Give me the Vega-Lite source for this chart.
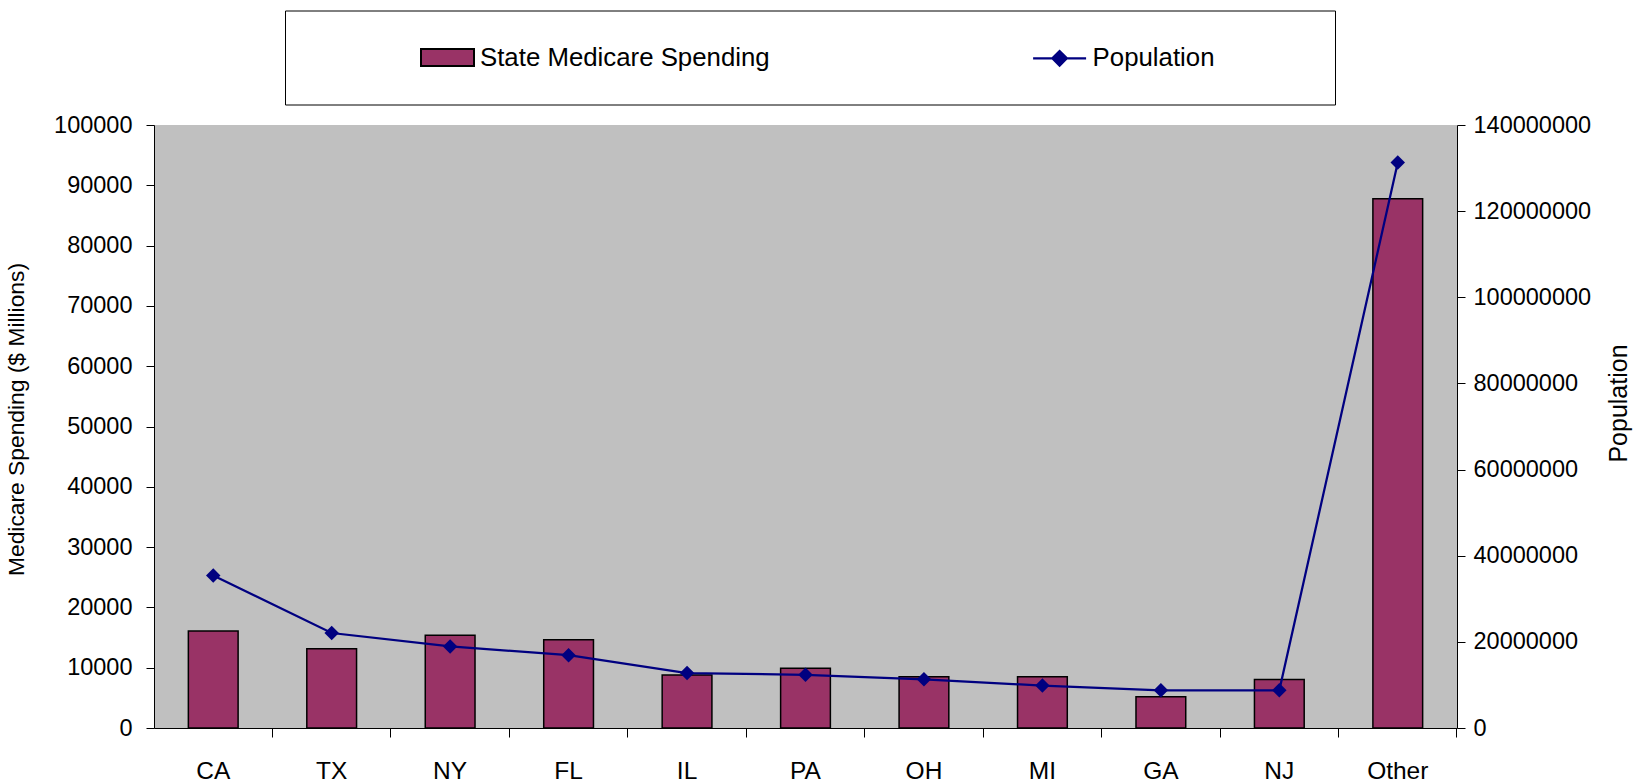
{
  "$schema": "https://vega.github.io/schema/vega-lite/v6.json",
  "width": 1303,
  "height": 603,
  "autosize": {"type": "none"},
  "padding": {"left": 154, "top": 125, "right": 178, "bottom": 54},
  "background": "white",
  "config": {
    "view": {"fill": "#C0C0C0", "stroke": null},
    "font": "Liberation Sans",
    "axis": {"grid": false, "domainColor": "black", "tickColor": "black", "labelColor": "black", "titleColor": "black", "titleFontWeight": "normal", "domainWidth": 1, "tickWidth": 1}
  },
  "data": {
    "values": [
      {"state": "CA", "spending": 16100, "population": 35400000},
      {"state": "TX", "spending": 13150, "population": 22050000},
      {"state": "NY", "spending": 15400, "population": 18950000},
      {"state": "FL", "spending": 14650, "population": 16900000},
      {"state": "IL", "spending": 8800, "population": 12750000},
      {"state": "PA", "spending": 9900, "population": 12350000},
      {"state": "OH", "spending": 8500, "population": 11300000},
      {"state": "MI", "spending": 8500, "population": 9850000},
      {"state": "GA", "spending": 5200, "population": 8750000},
      {"state": "NJ", "spending": 8050, "population": 8750000},
      {"state": "Other", "spending": 87750, "population": 131300000}
    ]
  },
  "encoding": {
    "x": {
      "field": "state",
      "type": "nominal",
      "sort": null,
      "scale": {"paddingInner": 0.58, "paddingOuter": 0.29},
      "axis": {
        "title": null,
        "labelAngle": 0,
        "labelFontSize": 24.5,
        "tickSize": 9,
        "labelPadding": 22,
        "bandPosition": 1.690476,
        "encode": {"ticks": {"y": {"value": -9}}}
      }
    }
  },
  "layer": [
    {
      "mark": {"type": "bar", "stroke": "black", "strokeWidth": 1.5},
      "encoding": {
        "y": {
          "field": "spending",
          "type": "quantitative",
          "scale": {"domain": [0, 100000], "nice": false},
          "axis": {
            "title": "Medicare Spending ($ Millions)",
            "values": [0, 10000, 20000, 30000, 40000, 50000, 60000, 70000, 80000, 90000, 100000],
            "format": "d",
            "labelFontSize": 23.5,
            "tickSize": 8,
            "labelPadding": 14,
            "titleFontSize": 22.8,
            "titlePadding": 25,
            "titleY": 294,
            "labelFlush": false,
            "labelOverlap": false,
            "encode": {"ticks": {"x": {"value": 8}}}
          }
        },
        "color": {
          "datum": "State Medicare Spending",
          "type": "nominal",
          "scale": {"domain": ["State Medicare Spending"], "range": ["#993366"]},
          "legend": {
            "orient": "none",
            "legendX": 266,
            "legendY": -95,
            "direction": "horizontal",
            "title": null,
            "padding": 0,
            "labelFontSize": 25.8,
            "labelColor": "black",
            "labelLimit": 1000,
            "labelOffset": 5,
            "symbolSize": 2809,
            "symbolType": "M-1,-0.32H1V0.32H-1Z",
            "symbolStrokeColor": "black",
            "symbolStrokeWidth": 2,
            "symbolOpacity": 1
          }
        }
      }
    },
    {
      "mark": {
        "type": "line",
        "strokeWidth": 2.25,
        "point": {"shape": "diamond", "filled": true, "size": 210}
      },
      "encoding": {
        "y": {
          "field": "population",
          "type": "quantitative",
          "scale": {"domain": [0, 140000000], "nice": false},
          "axis": {
            "orient": "right",
            "title": "Population",
            "values": [0, 20000000, 40000000, 60000000, 80000000, 100000000, 120000000, 140000000],
            "format": "d",
            "labelFontSize": 23.5,
            "tickSize": 8,
            "labelPadding": 8,
            "titleFontSize": 25,
            "titleAngle": 270,
            "titlePadding": 41,
            "titleY": 278,
            "labelFlush": false,
            "labelOverlap": false,
            "encode": {"ticks": {"x": {"value": -8}}}
          }
        },
        "color": {
          "datum": "Population",
          "type": "nominal",
          "scale": {"domain": ["Population"], "range": ["#000080"]},
          "legend": {
            "orient": "none",
            "legendX": 131,
            "legendY": -114.5,
            "direction": "horizontal",
            "title": "\u00a0",
            "titleOrient": "left",
            "titleFontSize": 25,
            "titlePadding": 726.8,
            "padding": 19.8,
            "strokeColor": "black",
            "labelFontSize": 25.8,
            "labelColor": "black",
            "labelLimit": 1000,
            "labelOffset": 5,
            "symbolSize": 2809,
            "symbolType": "M-1,0H1M0,-0.274L0.274,0L0,0.274L-0.274,0ZM0,0.815",
            "symbolFillColor": "#000080",
            "symbolStrokeColor": "#000080",
            "symbolStrokeWidth": 2.25,
            "symbolOpacity": 1,
            "labelExpr": "datum.label + '\u00a0\u00a0\u00a0\u00a0\u00a0\u00a0\u00a0\u00a0\u00a0\u00a0\u00a0\u00a0\u00a0\u00a0\u200b'"
          }
        }
      }
    }
  ],
  "resolve": {"scale": {"y": "independent", "color": "independent"}}
}
